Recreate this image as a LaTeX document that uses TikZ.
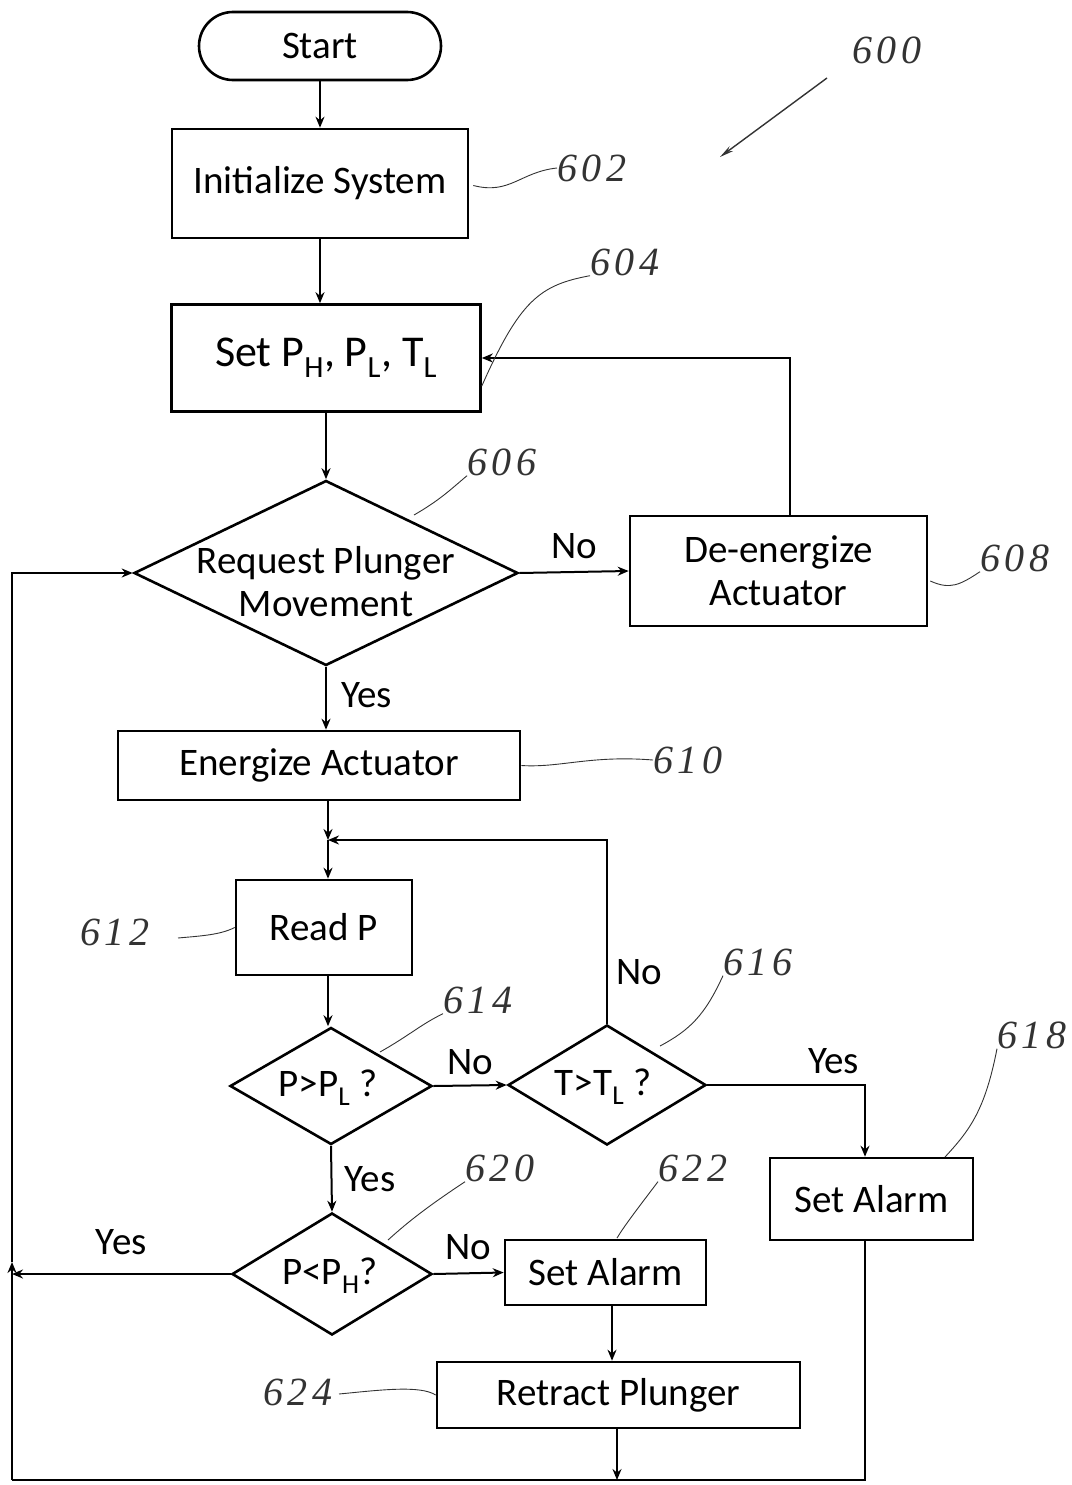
\documentclass[tikz,border=0pt]{standalone}
\usepackage{fontspec}
\setmainfont{Carlito}
\newfontfamily\handfont{Liberation Serif}[LetterSpace=12]
\usetikzlibrary{shapes.geometric,arrows.meta}
\begin{document}
\begin{tikzpicture}[x=1pt,y=-1pt,
  every node/.style={font=\fontsize{39}{45}\selectfont},
  box/.style={draw,line width=2.6pt,rectangle,inner sep=0pt,align=center},
  dia/.style={draw,line width=2.6pt,diamond,inner sep=0pt},
  diatext/.style={inner sep=0pt,align=center},
  flow/.style={line width=2pt},
  arr/.style={flow,-{Stealth[length=11pt,width=9pt]}},
  lbl/.style={inner sep=0pt},
  refnum/.style={inner sep=0pt,font=\handfont\itshape\fontsize{40}{40}\selectfont,text=black!80},
  lead/.style={line width=0.9pt,black!80}]
\useasboundingbox (0,0) rectangle (1071,1485);

% nodes
\node[box,rounded corners=34pt,minimum width=242pt,minimum height=68pt] (start) at (320,46) {Start};
\node[box,minimum width=296pt,minimum height=109pt] (init) at (320,183.5) {Initialize System};
\node[box,minimum width=309pt,minimum height=107pt,font=\fontsize{44}{50}\selectfont] (set) at (326,358) {Set P\textsubscript{H}, P\textsubscript{L}, T\textsubscript{L}};
\node[dia,minimum width=384pt,minimum height=185pt] (req) at (326,573) {};
\node[diatext] (reqt) at (326,582) {Request Plunger\\[-2pt]Movement};
\node[box,minimum width=297pt,minimum height=110pt] (deen) at (778.5,571) {De-energize\\[-2pt]Actuator};
\node[box,minimum width=402pt,minimum height=69pt] (energ) at (319,765.5) {Energize Actuator};
\node[box,minimum width=176pt,minimum height=95pt] (readp) at (324,927.5) {Read P};
\node[dia,minimum width=202pt,minimum height=117pt] (pl) at (331,1086) {};
\node[diatext] (plt) at (328,1088) {P>P\textsubscript{L} ?};
\node[dia,minimum width=198pt,minimum height=120pt] (tl) at (607,1085) {};
\node[diatext] (tlt) at (603,1087) {T>T\textsubscript{L} ?};
\node[box,minimum width=203pt,minimum height=82pt] (alarmA) at (871.5,1199) {Set Alarm};
\node[dia,minimum width=200pt,minimum height=122pt] (ph) at (332,1274) {};
\node[diatext] (pht) at (330,1276) {P<P\textsubscript{H}?};
\node[box,minimum width=201pt,minimum height=65pt] (alarmB) at (605.5,1272.5) {Set Alarm};
\node[box,minimum width=363pt,minimum height=66pt] (retract) at (618.5,1395) {Retract Plunger};

% helper coordinates
\coordinate (j) at (328,840);
\coordinate (bl) at (12,1480);
\coordinate (lm) at (12,1274);
\coordinate (lt) at (12,573);
\coordinate (br) at (865,1480);
\coordinate (bm) at (617,1480);

% connectors
\draw[arr] (start.south) -- (init.north);
\draw[arr] (init.south) -- (init.south |- set.north);
\draw[arr] (req.north |- set.south) -- (req.north);
\draw[arr] (req.east) -- (deen.west) node[lbl,midway,above=12pt] {No};
\draw[arr] ([xshift=11.5pt]deen.north) |- (set.east);
\draw[arr] (req.south) -- (req.south |- energ.north) node[lbl,pos=0.45,right=14pt] {Yes};
\draw[arr] (energ.south -| j) -- (j);
\draw[arr] (j) -- (readp.north -| j);
\draw[arr] (readp.south -| j) -- (pl.north -| j);
\draw[arr] (pl.east) -- (tl.west) node[lbl,midway,above=10pt] {No};
\draw[arr] (tl.north) -- (tl.north |- j) node[lbl,pos=0.28,right=8pt] {No} -- (j);
\draw[arr] (tl.east) -| (alarmA.north -| br) node[lbl,pos=0.4,above=10pt] {Yes};
\draw[arr] (pl.south) -- (ph.north) node[lbl,midway,right=12pt] {Yes};
\draw[arr] (ph.east) -- (alarmB.west) node[lbl,midway,above=12pt] {No};
\draw[arr] (ph.west) -- (lm) node[lbl,pos=0.5,above=18pt] {Yes};
\draw[arr] (alarmB.south -| 612,0) -- (retract.north -| 612,0);
\draw[arr] (retract.south -| bm) -- (bm);
\draw[flow] (alarmA.south -| br) -- (br) -- (bl);
\draw[arr] (bl) -- ([yshift=12pt]lm);
\draw[arr] ([yshift=12pt]lm) -- (lt) -- (req.west);

% reference numerals
\node[refnum] (n600) at (887,50) {600};
\coordinate (a600s) at (827,78);
\coordinate (a600e) at (720,157);
\draw[lead,line width=1.4pt,-{Stealth[length=14pt,width=6pt]}] (a600s) -- (a600e);

\node[refnum] (n602) at (592,168) {602};
\draw[lead] (init.east) ++(4,2) .. controls (510,195) and (520,172) .. (n602.west);

\node[refnum] (n604) at (625,262) {604};
\draw[lead] ([yshift=-28pt]set.east) .. controls (520,300) and (540,285) .. (n604.south west);

\node[refnum] (n606) at (502,462) {606};
\draw[lead] (414,515) .. controls (440,500) and (450,490) .. (n606.south west);

\node[refnum] (n608) at (1015,558) {608};
\draw[lead] (deen.east) ++(2,10) .. controls (950,590) and (960,585) .. (n608.south west);

\node[refnum] (n610) at (688,760) {610};
\draw[lead] (energ.east) .. controls (560,768) and (590,755) .. (n610.west);

\node[refnum] (n612) at (115,932) {612};
\draw[lead] (178,938) .. controls (200,936) and (220,935) .. (readp.west);

\node[refnum] (n614) at (478,1000) {614};
\draw[lead] (380,1052) .. controls (410,1035) and (420,1025) .. (n614.south west);

\node[refnum] (n616) at (758,962) {616};
\draw[lead] (660,1046) .. controls (690,1030) and (705,1015) .. (n616.south west);

\node[refnum] (n618) at (1032,1035) {618};
\draw[lead] (945,1157) .. controls (970,1130) and (985,1110) .. (n618.south west);

\node[refnum] (n620) at (500,1168) {620};
\draw[lead] (388,1240) .. controls (410,1220) and (430,1205) .. (n620.south west);

\node[refnum] (n622) at (693,1168) {622};
\draw[lead] (617,1238) .. controls (625,1225) and (635,1212) .. (n622.south west);

\node[refnum] (n624) at (298,1392) {624};
\draw[lead] (n624.east) ++(6,2) .. controls (380,1390) and (420,1385) .. (retract.west);
\end{tikzpicture}
\end{document}
